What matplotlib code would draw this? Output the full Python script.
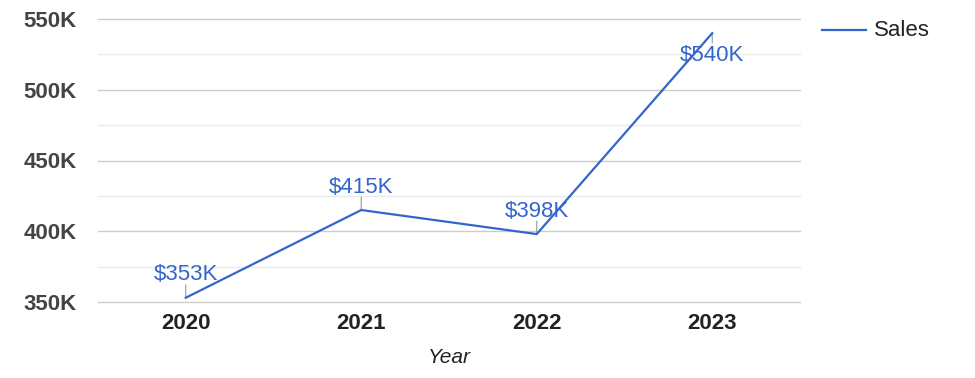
import matplotlib
matplotlib.use("Agg")
import matplotlib.pyplot as plt
from matplotlib.lines import Line2D

years = ["2020", "2021", "2022", "2023"]
sales = [353, 415, 398, 540]  # thousands
point_labels = ["$353K", "$415K", "$398K", "$540K"]
y_ticks = [350, 400, 450, 500, 550]
y_tick_labels = ["350K", "400K", "450K", "500K", "550K"]

plt.rcParams['font.family'] = ['Liberation Sans', 'DejaVu Sans']

W, H = 975, 378
fig = plt.figure(figsize=(W / 100, H / 100), dpi=100)
ax = fig.add_axes([98 / W, 1 - 302 / H, 702 / W, (302 - 19) / H])

blue = "#3366CC"
x = list(range(len(years)))
ax.plot(x, sales, color=blue, lw=1.6, zorder=3, solid_joinstyle='miter')

ax.set_xlim(-0.5, 3.5)
ax.set_ylim(350, 550)

# gridlines
for v in range(350, 551, 25):
    major = (v % 50 == 0)
    ax.axhline(v, color="#cccccc" if major else "#ebebeb", lw=1.0, zorder=1,
               clip_on=False)

for s in ax.spines.values():
    s.set_visible(False)

ax.set_yticks(y_ticks)
ax.set_yticklabels(y_tick_labels, fontsize=16, fontweight='bold', color="#444444")
ax.set_xticks(x)
ax.set_xticklabels(years, fontsize=16, fontweight='bold', color="#222222")
ax.tick_params(axis='y', length=0, pad=15.5)
ax.tick_params(axis='x', length=0, pad=8)
ax.set_xlabel("Year", fontsize=15, style='italic', color="#222222", labelpad=10)

# data labels with stems
for i, (v, lab) in enumerate(zip(sales, point_labels)):
    if i == len(sales) - 1:
        stem, txt = -10, -22
    else:
        stem, txt = 13, 23
    ax.annotate("", xy=(i, v), xytext=(0, stem), textcoords='offset pixels',
                arrowprops=dict(arrowstyle='-', color="#999999", lw=0.8,
                                shrinkA=0, shrinkB=0), zorder=2)
    ax.annotate(lab, xy=(i, v), xytext=(0, txt), textcoords='offset pixels',
                ha='center', va='center', fontsize=16, color=blue, zorder=4)

# legend
fig.add_artist(Line2D([822 / W, 866 / W], [1 - 30 / H, 1 - 30 / H],
                      color=blue, lw=1.6, transform=fig.transFigure))
fig.text(874 / W, 1 - 30 / H, "Sales", fontsize=16, color="#222222",
         va='center', ha='left')

fig.savefig("out.png", dpi=100)
